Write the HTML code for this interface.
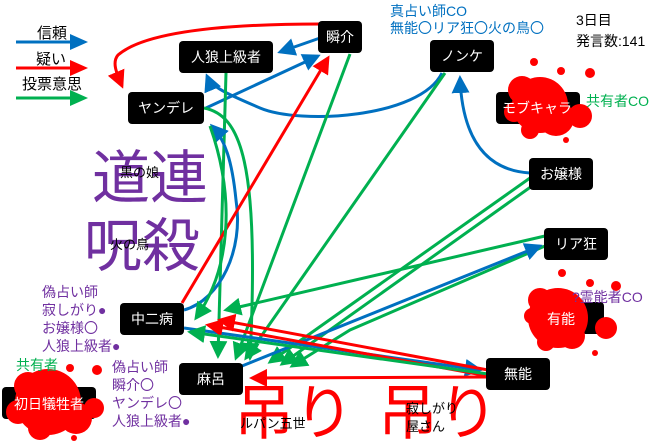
<!DOCTYPE html>
<html><head><meta charset="utf-8"><style>
html,body{margin:0;padding:0;background:#fff;}
svg{display:block;font-family:"Liberation Sans","Noto Sans CJK JP",sans-serif;}
</style></head><body>
<svg width="660" height="444" viewBox="0 0 660 444" xmlns="http://www.w3.org/2000/svg">
<defs>
<marker id="b" markerWidth="6" markerHeight="6" refX="5" refY="3" orient="auto" markerUnits="strokeWidth"><path d="M0,0 L6,3 L0,6 z" fill="#0070c0"/></marker>
<marker id="r" markerWidth="6" markerHeight="6" refX="5" refY="3" orient="auto" markerUnits="strokeWidth"><path d="M0,0 L6,3 L0,6 z" fill="#ff0000"/></marker>
<marker id="g" markerWidth="6" markerHeight="6" refX="5" refY="3" orient="auto" markerUnits="strokeWidth"><path d="M0,0 L6,3 L0,6 z" fill="#00b050"/></marker>
</defs>
<g fill="#7030a0" font-size="58">
<text x="92" y="198">道連</text>
<text x="84" y="266">呪殺</text>
</g>
<text x="120" y="177" font-size="13">黒の娘</text>
<text x="110" y="249" font-size="13">火の鳥</text>
<g fill="#ff0000" font-size="60">
<text x="234" y="434">吊り</text>
<text x="378" y="434">吊り</text>
</g>
<text x="240" y="428" font-size="13">ルパン五世</text>
<text x="406" y="413" font-size="13">寂しがり</text>
<text x="406" y="431" font-size="13">屋さん</text>
<!-- legend -->
<text x="37" y="38" font-size="15">信頼</text>
<text x="36" y="64" font-size="15">疑い</text>
<text x="22" y="89" font-size="15">投票意思</text>
<line x1="16" y1="42" x2="72" y2="42" stroke="#0070c0" stroke-width="3"/><path d="M70,34 L88,42 L70,50z" fill="#0070c0"/>
<line x1="16" y1="68" x2="72" y2="68" stroke="#ff0000" stroke-width="3"/><path d="M70,60 L88,68 L70,76z" fill="#ff0000"/>
<line x1="16" y1="98" x2="72" y2="98" stroke="#00b050" stroke-width="3"/><path d="M70,90 L88,98 L70,106z" fill="#00b050"/>
<g fill="none" stroke-width="3">
<path d="M320,24 C200,24 140,36 118,55 C112,62 116,72 122,86" stroke="#ff0000" marker-end="url(#r)"/>
<path d="M320,38 L280,52" stroke="#0070c0" marker-end="url(#b)"/>
<path d="M206,108 L318,56" stroke="#0070c0" marker-end="url(#b)"/>
<path d="M442,73 C420,118 300,125 260,108 C230,95 212,88 207,76" stroke="#0070c0" marker-end="url(#b)"/>
<path d="M530,173 C480,170 462,130 460,78" stroke="#0070c0" marker-end="url(#b)"/>
<path d="M226,73 L218,356" stroke="#00b050" marker-end="url(#g)"/>
<path d="M204,108 C240,115 260,160 250,358" stroke="#00b050" marker-end="url(#g)"/>
<path d="M184,310 C220,300 244,250 236,200 C232,160 225,140 212,126" stroke="#0070c0" marker-end="url(#b)"/>
<path d="M182,303 L328,58" stroke="#ff0000" marker-end="url(#r)"/>
<path d="M350,54 L236,358" stroke="#00b050" marker-end="url(#g)"/>
<path d="M445,73 L246,358" stroke="#00b050" marker-end="url(#g)"/>
<path d="M530,178 L270,362" stroke="#00b050" marker-end="url(#g)"/>
<path d="M532,186 L282,364" stroke="#00b050" marker-end="url(#g)"/>
<path d="M545,236 L226,310" stroke="#00b050" marker-end="url(#g)"/>
<path d="M545,246 L350,330 L292,366" stroke="#00b050" marker-end="url(#g)"/>
<path d="M242,366 L540,246" stroke="#0070c0" marker-end="url(#b)"/>
<path d="M184,328 L480,370" stroke="#0070c0" marker-end="url(#b)"/>
<path d="M488,370 L220,320" stroke="#ff0000" marker-end="url(#r)"/>
<path d="M488,376 L208,325" stroke="#ff0000" marker-end="url(#r)"/>
<path d="M488,374 L190,332" stroke="#00b050" marker-end="url(#g)"/>
<path d="M488,377 L252,378" stroke="#ff0000" marker-end="url(#r)"/>
<path d="M210,126 C236,200 230,270 196,318" stroke="#00b050" marker-end="url(#g)"/>
</g>
<g fill="#000">
<rect x="318" y="21" width="44" height="32" rx="4"/>
<rect x="179" y="41" width="94" height="32" rx="4"/>
<rect x="430" y="40" width="64" height="32" rx="4"/>
<rect x="128" y="92" width="76" height="32" rx="4"/>
<rect x="496" y="92" width="84" height="32" rx="4"/>
<rect x="529" y="158" width="64" height="32" rx="4"/>
<rect x="544" y="228" width="64" height="32" rx="4"/>
<rect x="540" y="302" width="64" height="32" rx="4"/>
<rect x="120" y="303" width="64" height="32" rx="4"/>
<rect x="179" y="363" width="64" height="32" rx="4"/>
<rect x="486" y="358" width="64" height="32" rx="4"/>
<rect x="2" y="387" width="94" height="32" rx="4"/>
</g>
<g fill="#ff0000">
<circle cx="540" cy="105" r="28"/><circle cx="522" cy="90" r="14"/><circle cx="556" cy="118" r="18"/><circle cx="580" cy="116" r="12"/><circle cx="530" cy="130" r="9"/><circle cx="514" cy="112" r="10"/>
<circle cx="534" cy="62" r="4"/><circle cx="561" cy="71" r="4"/><circle cx="590" cy="73" r="5"/><circle cx="566" cy="140" r="3"/>
<circle cx="558" cy="318" r="30"/><circle cx="540" cy="300" r="12"/><circle cx="572" cy="336" r="13"/><circle cx="606" cy="328" r="11"/><circle cx="546" cy="342" r="9"/><circle cx="532" cy="316" r="8"/>
<circle cx="562" cy="273" r="4"/><circle cx="590" cy="283" r="4"/><circle cx="616" cy="286" r="5"/><circle cx="595" cy="353" r="3"/>
<circle cx="48" cy="402" r="33"/><circle cx="28" cy="386" r="14"/><circle cx="76" cy="418" r="16"/><circle cx="94" cy="408" r="10"/><circle cx="40" cy="428" r="12"/><circle cx="18" cy="412" r="12"/>
<circle cx="70" cy="368" r="4"/><circle cx="97" cy="370" r="5"/><circle cx="74" cy="438" r="3"/>
</g>
<g fill="#fff" font-size="14" text-anchor="middle">
<text x="340" y="42">瞬介</text>
<text x="226" y="62">人狼上級者</text>
<text x="462" y="61">ノンケ</text>
<text x="166" y="113">ヤンデレ</text>
<text x="537" y="113">モブキャラ</text>
<text x="561" y="179">お嬢様</text>
<text x="576" y="249">リア狂</text>
<text x="561" y="324">有能</text>
<text x="152" y="324">中二病</text>
<text x="211" y="384">麻呂</text>
<text x="518" y="379">無能</text>
<text x="49" y="409">初日犠牲者</text>
</g>
<g fill="#0070c0" font-size="14"><text x="390" y="16">真占い師CO</text><text x="390" y="33">無能〇リア狂〇火の鳥〇</text></g>
<g font-size="14"><text x="576" y="25">3日目</text><text x="576" y="46">発言数:141</text></g>
<g fill="#00b050" font-size="14"><text x="586" y="106">共有者CO</text><text x="16" y="370">共有者</text></g>
<text x="572" y="302" fill="#7030a0" font-size="14">?霊能者CO</text>
<g fill="#7030a0" font-size="14">
<text x="42" y="297">偽占い師</text><text x="42" y="315">寂しがり●</text><text x="42" y="333">お嬢様〇</text><text x="42" y="351">人狼上級者●</text>
<text x="112" y="372">偽占い師</text><text x="112" y="390">瞬介〇</text><text x="112" y="408">ヤンデレ〇</text><text x="112" y="426">人狼上級者●</text>
</g>
</svg>
</body></html>
